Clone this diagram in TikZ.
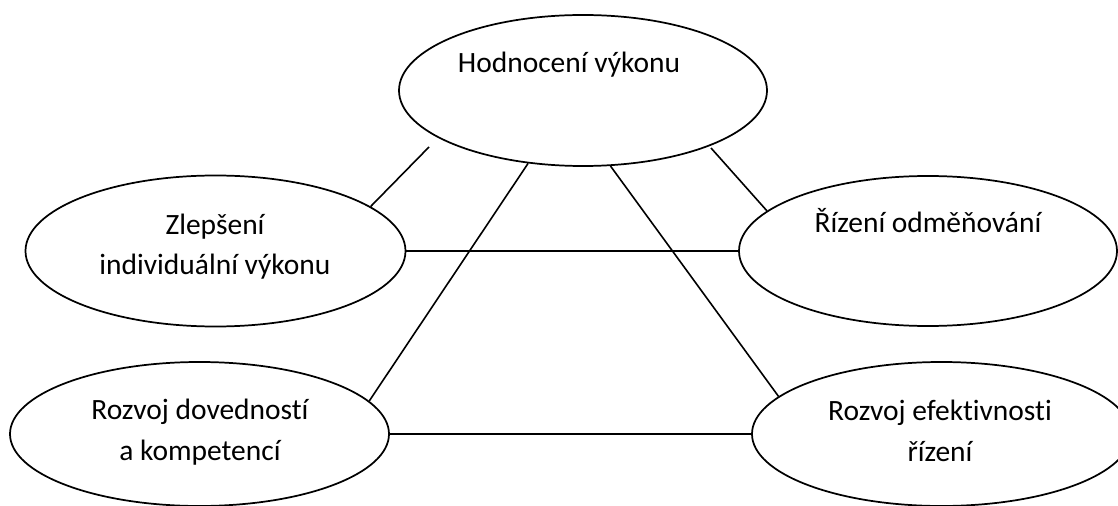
\documentclass[tikz,border=0pt]{standalone}
\usepackage{fontspec}
\setmainfont{Carlito}[Ligatures={NoCommon}]
\usetikzlibrary{shapes.geometric}
\begin{document}
\begin{tikzpicture}[x=0.75pt,y=-0.75pt,
  oval/.style={ellipse, draw=black, line width=1.3pt, fill=white, inner sep=0pt},
  lbl/.style={font=\fontsize{22.1}{30.75}\selectfont, align=center, anchor=base, inner sep=0pt},
  link/.style={draw=black, line width=1.2pt}]
\useasboundingbox (0,0) rectangle (1118,506);

% the five areas
\node[oval, minimum width=276pt, minimum height=113.25pt] (T) at (583,90.5) {};
\node[oval, minimum width=285pt, minimum height=113.25pt] (L) at (215.5,251) {};
\node[oval, minimum width=283.5pt, minimum height=112.5pt] (R) at (928,251) {};
\node[oval, minimum width=284.25pt, minimum height=108pt] (BL) at (199.5,434) {};
\node[oval, minimum width=284.25pt, minimum height=108pt] (BR) at (941.5,434) {};

% captions (base = baseline of the last line)
\node[lbl] (tT) at (569,73) {Hodnocení výkonu};
\node[lbl] (tL) at (215,275) {Zlepšení\\individuální výkonu};
\node[lbl] (tR) at (928,233) {Řízení odměňování};
\node[lbl] (tBL) at (200,460) {Rozvoj dovedností\\a kompetencí};
\node[lbl] (tBR) at (940,461) {Rozvoj efektivnosti\\řízení};

% free ends just off the top oval
\coordinate (tl) at (429,147);
\coordinate (tr) at (711,148);

% connections
\draw[link] (tl) -- (L.16);
\draw[link] (T.233.4) -- (BL.11.7);
\draw[link] (T.290.6) -- (BR.167.2);
\draw[link] (tr) -- (R.166);
\draw[link] (L.east) -- (R.west);
\draw[link] (BL.east) -- (BR.west);
\end{tikzpicture}
\end{document}
